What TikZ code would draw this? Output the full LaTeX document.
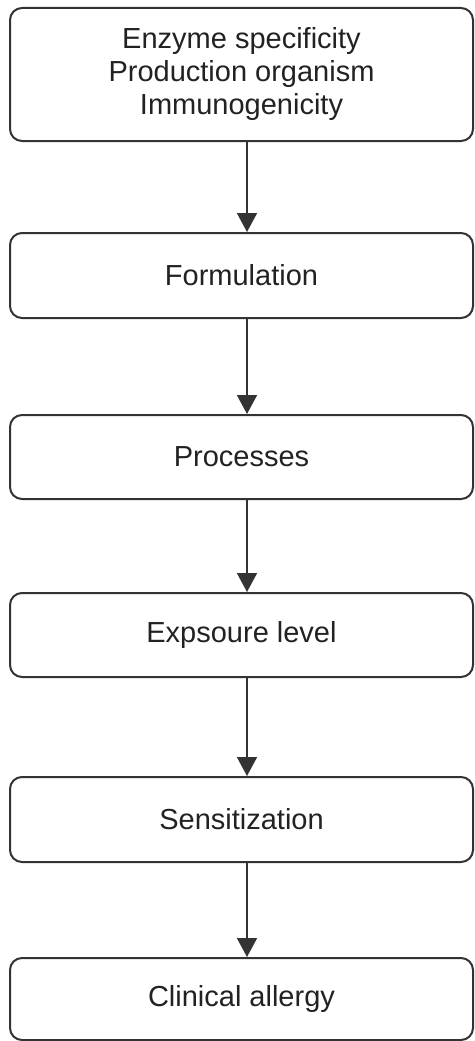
\documentclass[tikz,border=0pt]{standalone}
\usepackage{fontspec}
\setmainfont{Liberation Sans}
\usetikzlibrary{arrows.meta}
\definecolor{edge}{HTML}{333333}
\definecolor{txt}{HTML}{222222}
\begin{document}
\begin{tikzpicture}[x=1pt,y=-1pt,
  stepbox/.style={draw=edge, line width=2pt, rounded corners=12pt, fill=white,
    minimum width=463pt, inner sep=0pt, align=center, text=txt,
    font=\fontsize{29}{33}\selectfont},
  flow/.style={draw=edge, line width=1.8pt,
    -{Triangle[width=20pt,length=19pt]}}]
\useasboundingbox (0,0) rectangle (474,1041);
\node[stepbox, minimum height=133pt] (b1) at (241.5,74.5) {Enzyme specificity\\Production organism\\Immunogenicity};
\node[stepbox, minimum height=85pt] (b2) at (241.5,275.5) {Formulation};
\node[stepbox, minimum height=84pt] (b3) at (241.5,457) {Processes};
\node[stepbox, minimum height=84pt] (b4) at (241.5,635) {Expsoure level};
\node[stepbox, minimum height=85pt] (b5) at (241.5,819.5) {Sensitization};
\node[stepbox, minimum height=82pt] (b6) at (241.5,999) {Clinical allergy};
\draw[flow] ([xshift=5.5pt]b1.south) -- ([xshift=5.5pt]b2.north);
\draw[flow] ([xshift=5.5pt]b2.south) -- ([xshift=5.5pt]b3.north);
\draw[flow] ([xshift=5.5pt]b3.south) -- ([xshift=5.5pt]b4.north);
\draw[flow] ([xshift=5.5pt]b4.south) -- ([xshift=5.5pt]b5.north);
\draw[flow] ([xshift=5.5pt]b5.south) -- ([xshift=5.5pt]b6.north);
\end{tikzpicture}
\end{document}
